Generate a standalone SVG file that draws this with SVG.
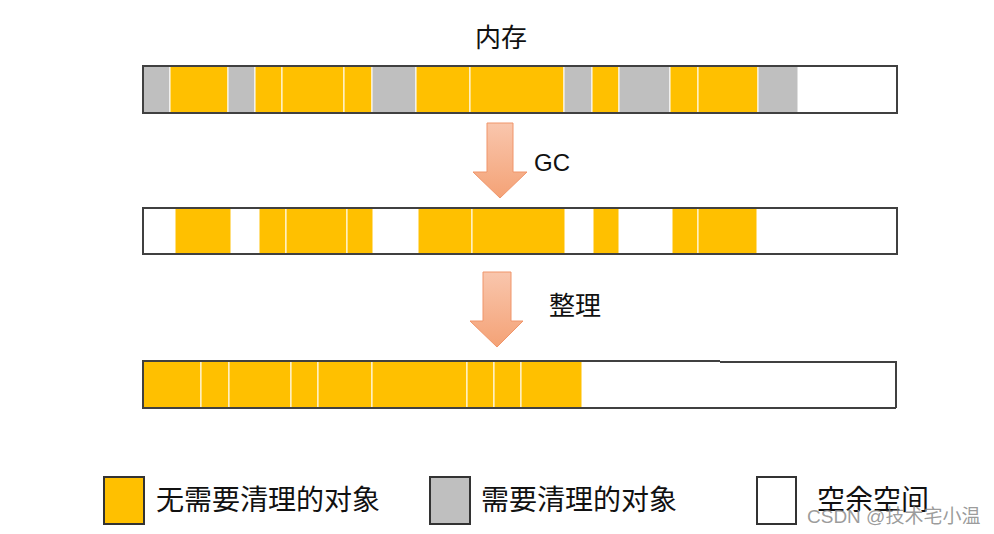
<svg xmlns="http://www.w3.org/2000/svg" width="994" height="534" viewBox="0 0 994 534">
<defs>
<linearGradient id="ag" x1="0" y1="0" x2="0" y2="1">
<stop offset="0" stop-color="#F9C6AD"/>
<stop offset="1" stop-color="#F4A276"/>
</linearGradient>
<style>
.y{fill:#FFC000;stroke:#FFFFFF;stroke-width:1}
.g{fill:#BFBFBF;stroke:#FFFFFF;stroke-width:1}
.frame{fill:none;stroke:#404040;stroke-width:2}
.arrow{fill:url(#ag);stroke:#F0956A;stroke-width:1}
.t{font-family:"Noto Sans CJK JP","Noto Sans CJK SC",sans-serif;fill:#111}
.lb{fill:#FFC000;stroke:#333;stroke-width:2}
</style>
</defs>
<rect width="994" height="534" fill="#fff"/>
<text class="t" x="501" y="47" font-size="26" text-anchor="middle">内存</text>
<g id="bar-memory">
<rect x="143" y="66" width="754" height="47" fill="#fff"/>
<rect class="g" x="143" y="66" width="27" height="47"/>
<rect class="y" x="170" y="66" width="58" height="47"/>
<rect class="g" x="228" y="66" width="27" height="47"/>
<rect class="y" x="255" y="66" width="27" height="47"/>
<rect class="y" x="282" y="66" width="62" height="47"/>
<rect class="y" x="344" y="66" width="28" height="47"/>
<rect class="g" x="372" y="66" width="44" height="47"/>
<rect class="y" x="416" y="66" width="54" height="47"/>
<rect class="y" x="470" y="66" width="94" height="47"/>
<rect class="g" x="564" y="66" width="28" height="47"/>
<rect class="y" x="592" y="66" width="27" height="47"/>
<rect class="g" x="619" y="66" width="51" height="47"/>
<rect class="y" x="670" y="66" width="28" height="47"/>
<rect class="y" x="698" y="66" width="60" height="47"/>
<rect class="g" x="758" y="66" width="40" height="47"/>
<rect class="frame" x="143" y="66" width="754" height="47"/>
</g>
<g id="bar-after-gc">
<rect x="143" y="208" width="754" height="46" fill="#fff"/>
<rect class="y" x="175" y="208" width="56" height="46"/>
<rect class="y" x="259" y="208" width="27" height="46"/>
<rect class="y" x="286" y="208" width="61" height="46"/>
<rect class="y" x="347" y="208" width="26" height="46"/>
<rect class="y" x="418" y="208" width="54" height="46"/>
<rect class="y" x="472" y="208" width="93" height="46"/>
<rect class="y" x="593" y="208" width="26" height="46"/>
<rect class="y" x="672" y="208" width="26" height="46"/>
<rect class="y" x="698" y="208" width="59" height="46"/>
<rect class="frame" x="143" y="208" width="754" height="46"/>
</g>
<g id="bar-compacted">
<rect x="143" y="361" width="753" height="47" fill="#fff"/>
<rect class="y" x="143" y="361" width="58" height="47"/>
<rect class="y" x="201" y="361" width="28" height="47"/>
<rect class="y" x="229" y="361" width="62" height="47"/>
<rect class="y" x="291" y="361" width="27" height="47"/>
<rect class="y" x="318" y="361" width="54" height="47"/>
<rect class="y" x="372" y="361" width="95" height="47"/>
<rect class="y" x="467" y="361" width="27" height="47"/>
<rect class="y" x="494" y="361" width="27" height="47"/>
<rect class="y" x="521" y="361" width="61" height="47"/>
<polyline class="frame" points="720,361 143,361 143,408 896,408"/>
<polyline class="frame" points="720,362 896,362 896,408"/>
</g>
<g id="connectors">
<polygon class="arrow" points="487,123 513,123 513,172 527,172 500,198 473,172 487,172"/>
<polygon class="arrow" points="483,272 511,272 511,321 523,321 497,347 470,321 483,321"/>
</g>
<text x="534" y="171" font-family="'Liberation Sans',Arial,sans-serif" font-size="24" fill="#111">GC</text>
<text class="t" x="549" y="315" font-size="26">整理</text>
<g id="legend-keep">
<rect class="lb" x="104" y="477" width="40" height="47"/>
<text class="t" x="156" y="510" font-size="28">无需要清理的对象</text>
</g>
<g id="legend-clean">
<rect x="430" y="477" width="40" height="47" fill="#BFBFBF" stroke="#333" stroke-width="2"/>
<text class="t" x="481" y="510" font-size="28">需要清理的对象</text>
</g>
<g id="legend-free">
<rect x="757" y="477" width="39" height="47" fill="#fff" stroke="#333" stroke-width="2"/>
<text class="t" x="817" y="510" font-size="28">空余空间</text>
</g>
<text x="807" y="523" font-family="'Liberation Sans','Noto Sans CJK SC',sans-serif" font-size="19" fill="#8a8a8a" fill-opacity="0.85">CSDN @技术宅小温</text>
</svg>
